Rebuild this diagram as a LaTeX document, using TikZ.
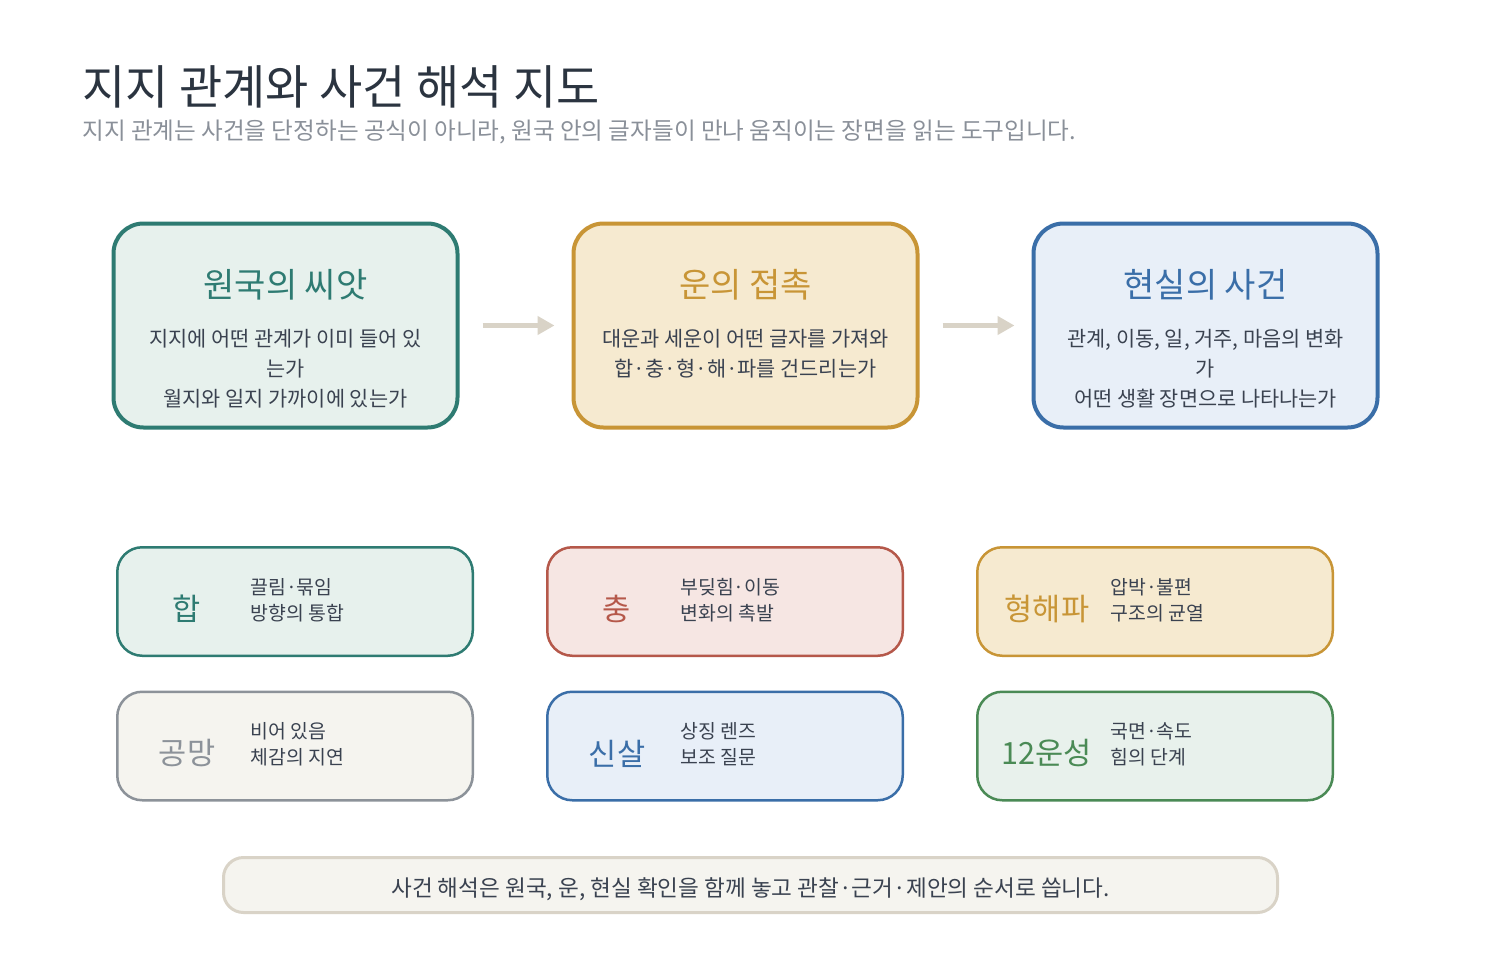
\documentclass[tikz,border=0pt]{standalone}
\usepackage{fontspec}
\setmainfont{Noto Sans CJK KR}
\usetikzlibrary{positioning}
\usetikzlibrary{arrows.meta}

\definecolor{ink}{HTML}{2B3440}
\definecolor{textgray}{HTML}{3A4250}
\definecolor{subgray}{HTML}{8A9099}
\definecolor{tealline}{HTML}{2E7B72}
\definecolor{tealfill}{HTML}{E7F1ED}
\definecolor{goldline}{HTML}{C89536}
\definecolor{goldfill}{HTML}{F6EAD0}
\definecolor{blueline}{HTML}{3A6EA8}
\definecolor{bluefill}{HTML}{E8EFF8}
\definecolor{redline}{HTML}{B5584A}
\definecolor{redfill}{HTML}{F6E6E3}
\definecolor{grayline}{HTML}{8C9299}
\definecolor{grayfill}{HTML}{F5F4EF}
\definecolor{greenline}{HTML}{4A8A55}
\definecolor{greenfill}{HTML}{E8F1EC}
\definecolor{arrowgray}{HTML}{D9D3C7}

\begin{document}
\begin{tikzpicture}[x=0.5pt, y=-0.5pt,
        stage/.style={draw, rounded corners=15pt, line width=2pt, minimum width=172pt, minimum height=102pt},
        stagehead/.style={font=\fontsize{17}{20}\selectfont, inner sep=0pt},
        stagebody/.style={font=\fontsize{10.4}{15}\selectfont, text=textgray, align=center, anchor=north, inner sep=0pt},
        flow/.style={draw=arrowgray, line width=2.5pt, -{Triangle[length=8.5pt,width=9pt]}, shorten <=11.5pt, shorten >=8.5pt},
        relbox/.style={draw, rounded corners=12.5pt, line width=1.25pt, minimum width=177.75pt, minimum height=54.25pt},
        rellabel/.style={font=\fontsize{15.3}{17}\selectfont, inner sep=0pt},
        reltext/.style={font=\fontsize{9.7}{13}\selectfont, text=textgray, align=left, anchor=west, inner sep=0pt}]

        % Canvas
        \useasboundingbox[fill=white] (0,0) rectangle (1500,980);

        % Title
        \node[anchor=base west, inner sep=0pt, font=\fontsize{23.5}{27}\selectfont, text=ink] (title) at (82,104) {지지 관계와 사건 해석 지도};
        \node[anchor=base west, inner sep=0pt, font=\fontsize{11.8}{14}\selectfont, text=subgray] (subtitle) at (82,139) {지지 관계는 사건을 단정하는 공식이 아니라, 원국 안의 글자들이 만나 움직이는 장면을 읽는 도구입니다.};

        % Top row: seed -> luck -> event
        \node[stage, draw=tealline, fill=tealfill] (seed) at (285.5,325.5) {};
        \node[stagehead, text=tealline] (seed-head) at ([yshift=-31.5pt]seed.north) {원국의 씨앗};
        \node[stagebody] (seed-body) at ([yshift=-53.5pt]seed.north) {지지에 어떤 관계가 이미 들어 있\\는가\\월지와 일지 가까이에 있는가};

        \node[stage, draw=goldline, fill=goldfill] (luck) at (745.5,325.5) {};
        \node[stagehead, text=goldline] (luck-head) at ([yshift=-31.5pt]luck.north) {운의 접촉};
        \node[stagebody] (luck-body) at ([yshift=-53.5pt]luck.north) {대운과 세운이 어떤 글자를 가져와\\합·충·형·해·파를 건드리는가};

        \node[stage, draw=blueline, fill=bluefill] (event) at (1205.5,325.5) {};
        \node[stagehead, text=blueline] (event-head) at ([yshift=-31.5pt]event.north) {현실의 사건};
        \node[stagebody] (event-body) at ([yshift=-53.5pt]event.north) {관계, 이동, 일, 거주, 마음의 변화\\가\\어떤 생활 장면으로 나타나는가};

        \draw[flow] (seed) -- (luck);
        \draw[flow] (luck) -- (event);

        % Relation boxes
        \foreach \nm/\cx/\cy/\ln/\fl/\lbl/\la/\lb in {
                hap/295/601.5/tealline/tealfill/합/끌림·묶임/방향의 통합,
                chung/725/601.5/redline/redfill/충/부딪힘·이동/변화의 촉발,
                hyeong/1155/601.5/goldline/goldfill/형해파/압박·불편/구조의 균열,
                gongmang/295/746/grayline/grayfill/공망/비어 있음/체감의 지연,
                sinsal/725/746/blueline/bluefill/신살/상징 렌즈/보조 질문,
                unseong/1155/746/greenline/greenfill/12운성/국면·속도/힘의 단계} {
            \node[relbox, draw=\ln, fill=\fl] (\nm) at (\cx,\cy) {};
            \node[rellabel, text=\ln] (\nm-lbl) at ([xshift=35.5pt,yshift=-3.75pt]\nm.west) {\lbl};
            \node[reltext] (\nm-txt) at ([xshift=67pt,yshift=0.75pt]\nm.west) {\la\\\lb};
        }

        % Closing note
        \node[draw=arrowgray, fill=grayfill, line width=1.5pt, rounded corners=10pt, minimum width=527pt, minimum height=27.5pt, text height=12pt, text depth=1pt, font=\fontsize{11.3}{13}\selectfont, text=textgray] (note) at (750.5,885) {사건 해석은 원국, 운, 현실 확인을 함께 놓고 관찰·근거·제안의 순서로 씁니다.};
    \end{tikzpicture}
\end{document}
